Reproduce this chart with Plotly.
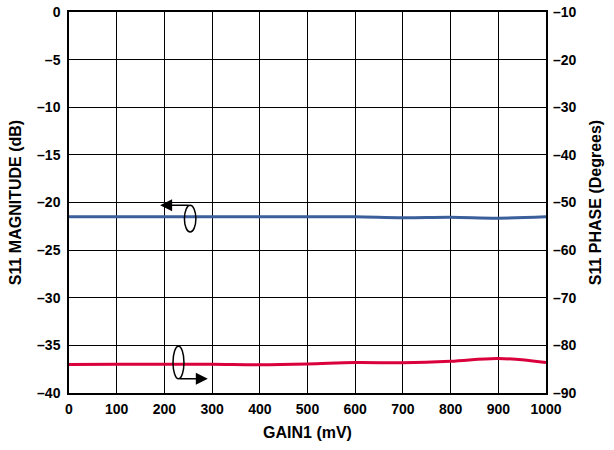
import plotly.graph_objects as go

# gain setting (mV)
gain_mv = [0, 100, 200, 300, 400, 500, 600, 700, 800, 900, 1000]
# S11 magnitude (dB) - left axis
s11_mag = [-21.5, -21.5, -21.5, -21.5, -21.5, -21.5, -21.5, -21.6, -21.55, -21.65, -21.5]
# S11 phase (degrees) - right axis
s11_phase = [-84.0, -83.95, -83.95, -83.95, -84.05, -83.9, -83.6, -83.65, -83.35, -82.75, -83.6]

x_ticks = [0, 100, 200, 300, 400, 500, 600, 700, 800, 900, 1000]
mag_ticks = [0, -5, -10, -15, -20, -25, -30, -35, -40]
phase_ticks = [-10, -20, -30, -40, -50, -60, -70, -80, -90]


def dash(v):
    return str(v).replace("-", "\u2013")


fam = "Arial, Liberation Sans, sans-serif"
tfont = dict(family=fam, size=14, color="black", weight="bold")
title_font = dict(family=fam, size=16, color="black", weight="bold")

fig = go.Figure()
fig.add_trace(go.Scatter(x=gain_mv, y=s11_mag, mode="lines", line=dict(color="#3b5f9b", width=3), line_shape="spline"))
fig.add_trace(go.Scatter(x=gain_mv, y=s11_phase, mode="lines", yaxis="y2", line=dict(color="#d9003b", width=3), line_shape="spline"))

# ellipse markers pointing at each trace's axis
fig.add_shape(type="circle", xref="x", yref="y", x0=242, x1=266, y0=-23.1, y1=-20.3, line=dict(color="black", width=1.5))
fig.add_shape(type="circle", xref="x", yref="y", x0=218, x1=241, y0=-38.5, y1=-35.1, line=dict(color="black", width=1.5))

fig.add_annotation(x=191, y=-20.3, ax=254, ay=-20.3, xref="x", yref="y", axref="x", ayref="y",
                   showarrow=True, arrowhead=2, arrowsize=1.6, arrowwidth=1.5, arrowcolor="black", text="")
fig.add_annotation(x=291, y=-38.5, ax=229, ay=-38.5, xref="x", yref="y", axref="x", ayref="y",
                   showarrow=True, arrowhead=2, arrowsize=1.6, arrowwidth=1.5, arrowcolor="black", text="")

fig.update_layout(
    template="none",
    width=614, height=450,
    margin=dict(l=69, r=68, t=12, b=57),
    plot_bgcolor="white", paper_bgcolor="white",
    showlegend=False,
    font=dict(family=fam, size=12, color="black"),
    xaxis=dict(range=[0, 1000], tickvals=x_ticks, ticktext=[str(v) for v in x_ticks], automargin=False,
               showgrid=True, gridcolor="black", gridwidth=1, showline=True, linecolor="black",
               linewidth=1.5, mirror=True, zeroline=False, ticks="", tickfont=tfont,
               ticklabeloverflow="allow", ticklabelstandoff=2,
               title=dict(text="GAIN1 (mV)", font=title_font, standoff=11)),
    yaxis=dict(range=[-40, 0], tickvals=mag_ticks, ticktext=[dash(v) for v in mag_ticks], automargin=False,
               showgrid=True, gridcolor="black", gridwidth=1, showline=True, linecolor="black",
               linewidth=1.5, mirror=True, zeroline=False, ticks="", tickfont=tfont,
               ticklabeloverflow="allow", ticklabelstandoff=4,
               title=dict(text="S11 MAGNITUDE (dB)", font=title_font, standoff=11)),
    yaxis2=dict(range=[-90, -10], tickvals=phase_ticks, ticktext=[dash(v) for v in phase_ticks], automargin=False,
                overlaying="y", side="right", showgrid=False, zeroline=False, ticks="", tickfont=tfont,
                ticklabeloverflow="allow", ticklabelstandoff=6,
                title=dict(text="S11 PHASE (Degrees)", font=title_font, standoff=14)),
)

# drop the default page margin so the figure sits at the window corner
fig.write_html("out.html", post_script="document.body.style.margin='0';",
               config={"displayModeBar": False})
